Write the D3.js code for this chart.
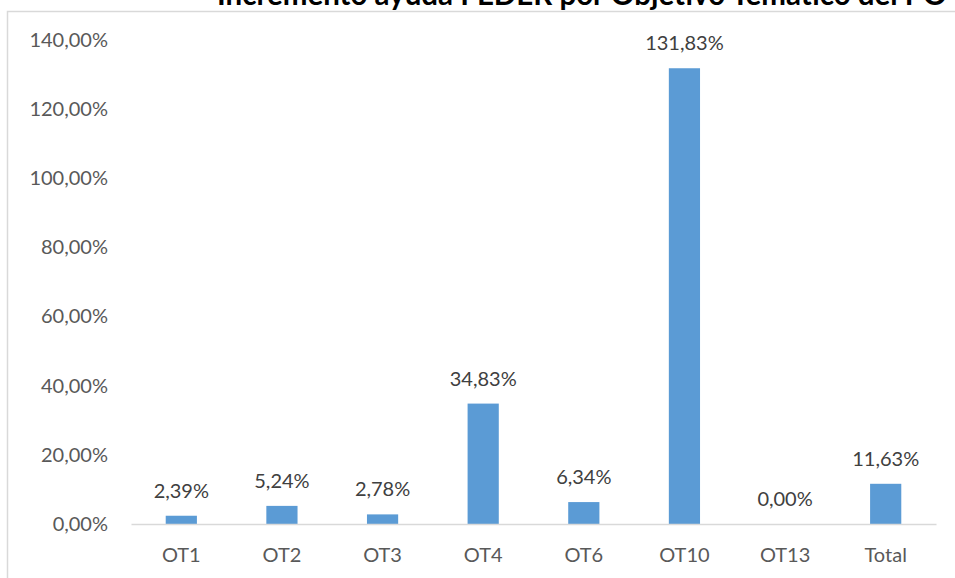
<!DOCTYPE html>
<html>
<head>
<meta charset="utf-8">
<script src="https://cdn.jsdelivr.net/npm/d3@7"></script>
<style>
  html, body { margin: 0; padding: 0; background: #fff; overflow: hidden; }
  svg { display: block; font-family: Lato, "Open Sans", sans-serif; }
</style>
</head>
<body>
<svg id="chart" width="955" height="578"></svg>
<script>
// chart data
var categories = ['OT1', 'OT2', 'OT3', 'OT4', 'OT6', 'OT10', 'OT13', 'Total'];
var values = [2.39, 5.24, 2.78, 34.83, 6.34, 131.83, 0.00, 11.63];
var yTicks = [0, 20, 40, 60, 80, 100, 120, 140];
var title = 'Incremento ayuda FEDER por Objetivo Temático del PO';

var svg = d3.select('#chart');
var es = d3.formatLocale({decimal: ',', thousands: '.', grouping: [3], currency: ['', '€']});
var pct = function(d){ return es.format('.2f')(d) + '%'; };

// chart area border (clipped on the top/right like the source)
svg.append('rect')
    .attr('x', 7.5).attr('y', 11.5)
    .attr('width', 1200).attr('height', 800)
    .attr('fill', 'none')
    .attr('stroke', '#d9d9d9')
    .attr('stroke-width', 1.5);

// title, mostly cut off at the top
var t = svg.append('text')
    .attr('x', 217).attr('y', 5)
    .attr('font-weight', 'bold')
    .attr('font-size', 20)
    .attr('fill', '#000')
    .text(title);
// size it so it spans the same width as in the picture
var w = t.node().getComputedTextLength();
t.attr('font-size', 20 * 730 / w);

var x = d3.scaleBand()
    .domain(categories)
    .range([131, 936])
    .paddingInner(0.69)
    .paddingOuter(0.345);

var y = d3.scaleLinear()
    .domain([0, 140])
    .range([524, 40]);

// y axis, labels only
var yAxis = svg.append('g')
    .attr('transform', 'translate(131,0)')
    .call(d3.axisLeft(y).tickValues(yTicks).tickSize(0).tickPadding(23).tickFormat(pct));
yAxis.select('.domain').remove();
yAxis.selectAll('text')
    .attr('font-family', 'Lato, "Open Sans", sans-serif')
    .attr('font-size', 20)
    .attr('fill', '#595959');

// bars
svg.append('g').selectAll('rect')
    .data(values)
    .enter().append('rect')
    .attr('x', function(d, i){ return x(categories[i]); })
    .attr('y', function(d){ return y(d); })
    .attr('width', x.bandwidth())
    .attr('height', function(d){ return y(0) - y(d); })
    .attr('fill', '#5b9bd5');

// x axis
var xAxis = svg.append('g')
    .attr('transform', 'translate(0,' + y(0) + ')')
    .call(d3.axisBottom(x).tickSize(0).tickPadding(24));
xAxis.select('.domain')
    .attr('stroke', '#d9d9d9')
    .attr('stroke-width', 1.5);
xAxis.selectAll('text')
    .attr('font-family', 'Lato, "Open Sans", sans-serif')
    .attr('font-size', 20)
    .attr('fill', '#595959');

// value labels above bars
svg.append('g').selectAll('text')
    .data(values)
    .enter().append('text')
    .attr('x', function(d, i){ return x(categories[i]) + x.bandwidth() / 2; })
    .attr('y', function(d){ return y(d) - 18; })
    .attr('text-anchor', 'middle')
    .attr('font-size', 20)
    .attr('fill', '#404040')
    .text(pct);
</script>
</body>
</html>
